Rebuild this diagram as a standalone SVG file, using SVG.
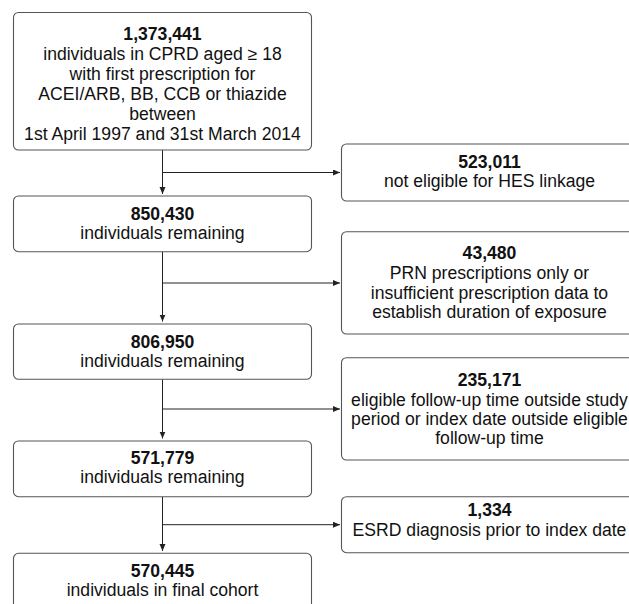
<svg xmlns="http://www.w3.org/2000/svg" width="629" height="604" viewBox="0 0 629 604">
<defs>
<style>
.box{fill:#ffffff;stroke:#555555;stroke-width:1.1}
.t{font-family:"Liberation Sans",Arial,Helvetica,sans-serif;font-size:17.6px;fill:#111111;text-anchor:middle}
.b{font-weight:bold}
.ln{stroke:#222222;stroke-width:1;fill:none}
</style>
<marker id="ah" markerUnits="userSpaceOnUse" markerWidth="8" markerHeight="7" refX="7" refY="3" orient="auto">
<path d="M0,0 L7,3 L0,6 z" fill="#222222"/>
</marker>
</defs>
<rect width="629" height="604" fill="#ffffff"/>
<g id="connectors">
<line class="ln" x1="162.5" y1="150" x2="162.5" y2="194" marker-end="url(#ah)"/>
<line class="ln" x1="162.5" y1="172.5" x2="340" y2="172.5" marker-end="url(#ah)"/>
<line class="ln" x1="162.5" y1="251.7" x2="162.5" y2="321.5" marker-end="url(#ah)"/>
<line class="ln" x1="162.5" y1="283" x2="340" y2="283" marker-end="url(#ah)"/>
<line class="ln" x1="162.5" y1="379.3" x2="162.5" y2="438.5" marker-end="url(#ah)"/>
<line class="ln" x1="162.5" y1="409" x2="340" y2="409" marker-end="url(#ah)"/>
<line class="ln" x1="162.5" y1="496.7" x2="162.5" y2="551" marker-end="url(#ah)"/>
<line class="ln" x1="162.5" y1="524.7" x2="340" y2="524.7" marker-end="url(#ah)"/>
</g>
<g id="n1">
<rect class="box" x="13.5" y="12.5" width="298" height="137.5" rx="5"/>
<text class="t b" x="162.5" y="40">1,373,441</text>
<text class="t" x="162.5" y="60">individuals in CPRD aged ≥ 18</text>
<text class="t" x="162.5" y="80">with first prescription for</text>
<text class="t" x="162.5" y="100">ACEI/ARB, BB, CCB or thiazide</text>
<text class="t" x="162.5" y="120">between</text>
<text class="t" x="162.5" y="140">1st April 1997 and 31st March 2014</text>
</g>
<g id="e1">
<rect class="box" x="341.5" y="144" width="296" height="57" rx="5"/>
<text class="t b" x="489.5" y="168">523,011</text>
<text class="t" x="489.5" y="187">not eligible for HES linkage</text>
</g>
<g id="n2">
<rect class="box" x="13.5" y="196" width="298" height="55.7" rx="5"/>
<text class="t b" x="162.5" y="220">850,430</text>
<text class="t" x="162.5" y="239">individuals remaining</text>
</g>
<g id="e2">
<rect class="box" x="341.5" y="231.7" width="296" height="102.3" rx="5"/>
<text class="t b" x="489.5" y="258.5">43,480</text>
<text class="t" x="489.5" y="279">PRN prescriptions only or</text>
<text class="t" x="489.5" y="298.5">insufficient prescription data to</text>
<text class="t" x="489.5" y="318">establish duration of exposure</text>
</g>
<g id="n3">
<rect class="box" x="13.5" y="324" width="298" height="55.3" rx="5"/>
<text class="t b" x="162.5" y="347.5">806,950</text>
<text class="t" x="162.5" y="366.5">individuals remaining</text>
</g>
<g id="e3">
<rect class="box" x="341.5" y="357.7" width="296" height="102.3" rx="5"/>
<text class="t b" x="489.5" y="385.5">235,171</text>
<text class="t" x="489.5" y="405.5">eligible follow-up time outside study</text>
<text class="t" x="489.5" y="425">period or index date outside eligible</text>
<text class="t" x="489.5" y="444">follow-up time</text>
</g>
<g id="n4">
<rect class="box" x="13.5" y="441" width="298" height="55.7" rx="5"/>
<text class="t b" x="162.5" y="464">571,779</text>
<text class="t" x="162.5" y="483">individuals remaining</text>
</g>
<g id="e4">
<rect class="box" x="341.5" y="496.7" width="296" height="56" rx="5"/>
<text class="t b" x="489.5" y="516">1,334</text>
<text class="t" x="489.5" y="535.5">ESRD diagnosis prior to index date</text>
</g>
<g id="n5">
<rect class="box" x="13.5" y="553.3" width="298" height="56" rx="5"/>
<text class="t b" x="162.5" y="577">570,445</text>
<text class="t" x="162.5" y="595.5">individuals in final cohort</text>
</g>
</svg>
